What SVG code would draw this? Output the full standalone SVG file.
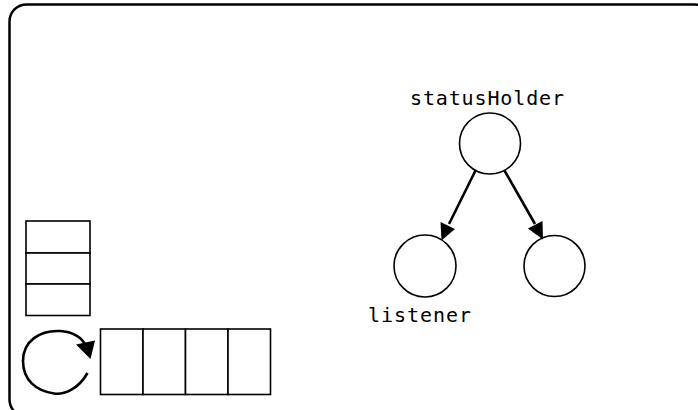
<svg xmlns="http://www.w3.org/2000/svg" width="698" height="410" viewBox="0 0 698 410">
<defs>
<style>
.frame{fill:#fff;stroke:#000;stroke-width:2.5}
.box{fill:#fff;stroke:#000;stroke-width:1.6}
.node{fill:#fff;stroke:#000;stroke-width:1.6}
.edge{fill:none;stroke:#000;stroke-width:2.6}
.head{fill:#000;stroke:none}
.lbl{font-family:"DejaVu Sans Mono","Liberation Mono",monospace;font-size:20px;fill:#000}
</style>
</defs>
<rect width="698" height="410" fill="#fff"/>
<rect class="frame" x="9.5" y="4.5" width="702" height="412" rx="17"/>
<g id="stack">
<rect class="box" x="26" y="221" width="64" height="32"/>
<rect class="box" x="26" y="253" width="64" height="31"/>
<rect class="box" x="26" y="284" width="64" height="31.5"/>
</g>
<g id="queue">
<rect class="box" x="100.5" y="329" width="42.5" height="65.5"/>
<rect class="box" x="143" y="329" width="42.5" height="65.5"/>
<rect class="box" x="185.5" y="329" width="42.5" height="65.5"/>
<rect class="box" x="228" y="329" width="42.5" height="65.5"/>
</g>
<g id="loop">
<path class="edge" d="M 87.5 373 C 78 390, 63 395, 54 393.5 C 36 391, 23 380, 23 361 C 23 341, 40 330, 60 331 C 72 331.5, 82 337, 86 346" stroke-width="3.8"/>
<polygon class="head" points="76,344.5 95,340.5 90.5,359"/>
</g>
<g id="statusHolder">
<circle class="node" cx="490" cy="143.5" r="30.5"/>
<text class="lbl" x="410" y="105" textLength="154" lengthAdjust="spacing">statusHolder</text>
</g>
<g id="listener">
<circle class="node" cx="425" cy="266" r="31"/>
<text class="lbl" x="368" y="321.5" textLength="103" lengthAdjust="spacing">listener</text>
</g>
<g id="listener2">
<circle class="node" cx="554.5" cy="266" r="30.5"/>
</g>
<g id="connectors">
<line class="edge" x1="475.5" y1="170.5" x2="449" y2="224"/>
<polygon class="head" points="441.5,240.5 440.5,222 455,229"/>
<line class="edge" x1="504.5" y1="170.5" x2="535" y2="224"/>
<polygon class="head" points="543,239.5 528,228.5 542.5,221"/>
</g>
</svg>
